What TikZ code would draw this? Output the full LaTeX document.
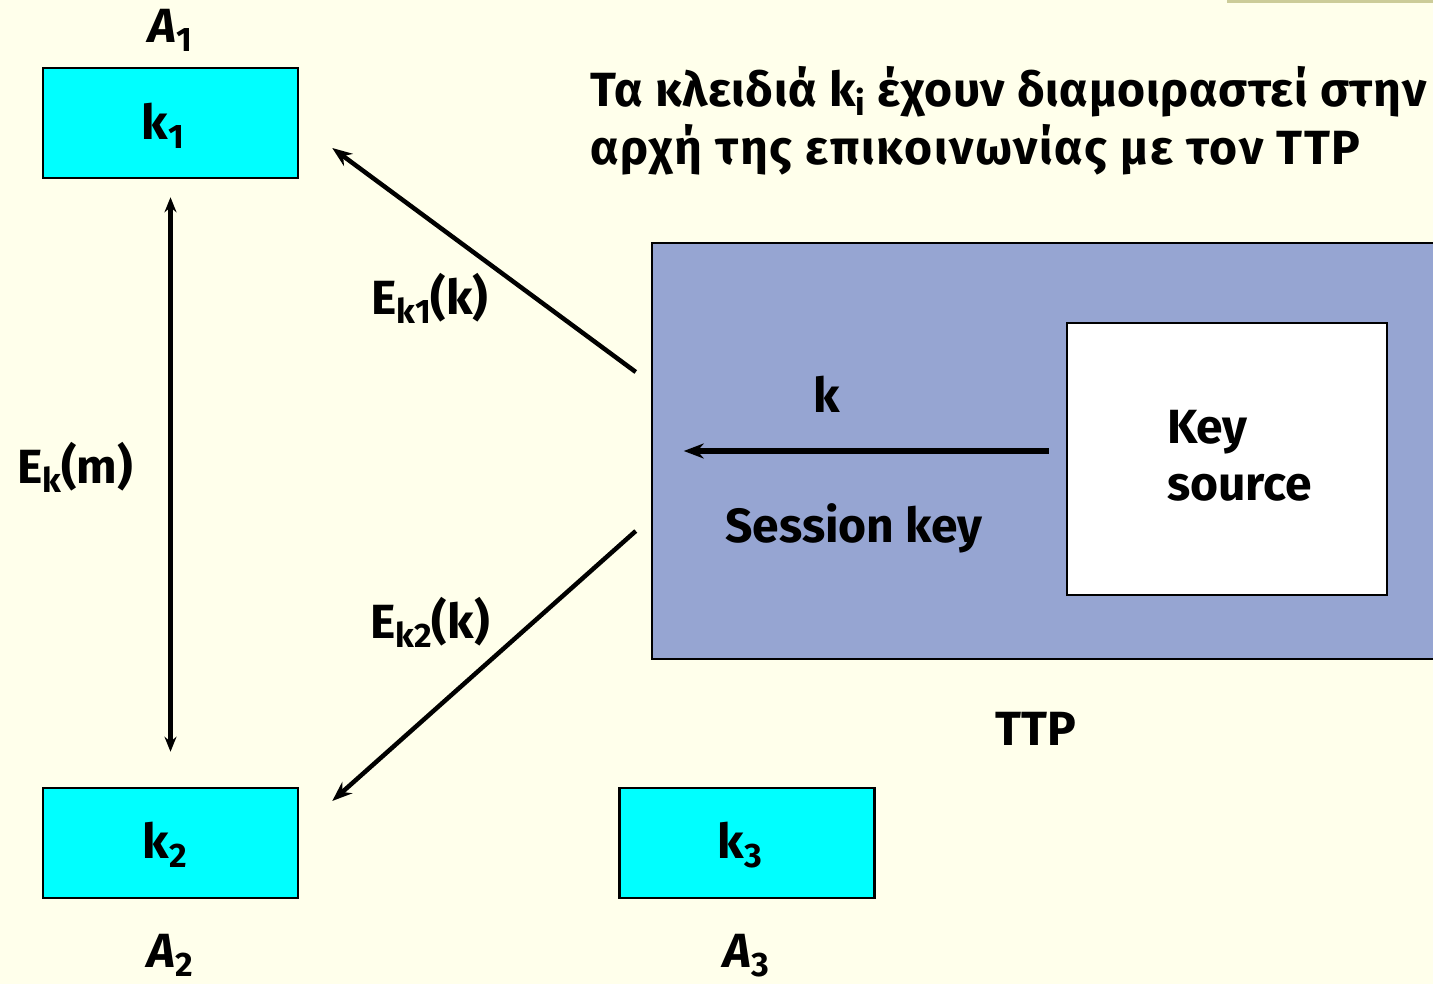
\documentclass[tikz,border=0pt]{standalone}
\usepackage{fontspec}
\setmainfont{Fira Sans}
\usetikzlibrary{arrows.meta}
\definecolor{paper}{RGB}{255,255,235}
\definecolor{keycyan}{RGB}{0,255,255}
\definecolor{ttpblue}{RGB}{150,165,210}
\definecolor{rulecol}{RGB}{204,204,153}
% lowered subscript in the text font
\newcommand\lsub[1]{\raisebox{-9pt}{\fontsize{34}{34}\selectfont #1}}
\begin{document}
\begin{tikzpicture}[x=1pt,y=-1pt,
  txt/.style={font=\fontsize{48}{48}\selectfont\bfseries, inner sep=0pt, anchor=base},
  notetxt/.style={txt, anchor=base west, font=\fontsize{48}{48}\selectfont\bfseries\addfontfeatures{LetterSpace=#1}},
  keybox/.style={draw=black, line width=2.5pt, fill=keycyan, minimum width=255pt, minimum height=110pt, inner sep=0pt},
  arr/.style={line width=4.5pt, -{Stealth[length=20pt,width=15pt]}},
  darr/.style={line width=4.5pt, {Stealth[length=15pt,width=12pt]}-{Stealth[length=15pt,width=12pt]}}]
\useasboundingbox (0,0) rectangle (1433,984);
\fill[paper] (0,0) rectangle (1433,984);
\fill[rulecol] (1227,0) rectangle (1433,3);

% trusted third party and its key source
\node[draw=black, line width=2.5pt, fill=ttpblue, minimum width=810pt, minimum height=416pt, inner sep=0pt] (ttp) at (1057,451) {};
\node[draw=black, line width=2.5pt, fill=white, minimum width=320pt, minimum height=272pt, inner sep=0pt] (src) at (1227,459) {};
\node[txt, anchor=base west] (srcA) at (1167,443) {Key};
\node[txt, anchor=base west] (srcB) at (1167,500) {source};
\node[txt] (klab) at (827,413) {k};
\node[txt] (sess) at (854,542) {Session key};
\node[txt] (ttplab) at (1036,745) {TTP};

% the parties' key boxes
\node[keybox] (k1) at (170.5,123) {};
\node[keybox] (k2) at (170.5,843) {};
\node[keybox] (k3) at (747,843) {};
\node[txt] at (163,140) {k\lsub{1}};
\node[txt] at (165,858) {k\lsub{2}};
\node[txt] at (740,858) {k\lsub{3}};
\node[txt] (a1) at (170,43) {\itshape A\lsub{\upshape 1}};
\node[txt] (a2) at (170,967) {\itshape A\lsub{\upshape 2}};
\node[txt] (a3) at (746,967) {\itshape A\lsub{\upshape 3}};

% arrows
\draw[line width=5.5pt, -{Stealth[length=20pt,width=15pt]}] ([shift={(-17,-8)}]src.west) -- ([shift={(33,0)}]ttp.west);
\draw[arr] ([shift={(-15,-79)}]ttp.west) -- ([shift={(33,25)}]k1.east);
\draw[arr] ([shift={(-15,80)}]ttp.west) -- ([shift={(33,-42)}]k2.east);
\draw[darr, shorten <=18pt, shorten >=35pt] (k1.south) -- (k2.north);

\node[txt] (ek1) at (430,315) {E\lsub{k1}(k)};
\node[txt] (ek2) at (430,638) {E\lsub{k2}(k)};
\node[txt] (ekm) at (75,483) {E\lsub{k}(m)};

% note
\node[notetxt=1.5] (note1) at (590,107) {Τα κλειδιά k\lsub{i} έχουν διαμοιραστεί στην};
\node[notetxt=3.5] (note2) at (590,165) {αρχή της επικοινωνίας με τον TTP};
\end{tikzpicture}
\end{document}
